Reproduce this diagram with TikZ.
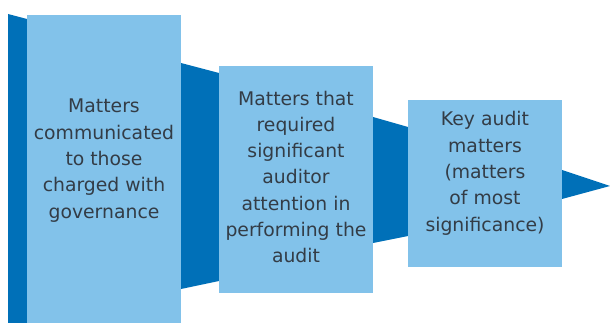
\documentclass[tikz,border=0pt]{standalone}
\usepackage{fontspec}
\setmainfont{DejaVu Sans}
\definecolor{funnelblue}{RGB}{0,112,184}
\definecolor{boxblue}{RGB}{130,194,234}
\definecolor{textgray}{RGB}{51,60,70}
\begin{document}
\begin{tikzpicture}[x=1pt,y=-1pt,
	box/.style={fill=boxblue, inner sep=0pt, anchor=north west, minimum width=154},
	boxtext/.style={text=textgray, align=center, inner sep=0pt,
		font=\fontsize{18.8}{26.3}\selectfont}]
	\useasboundingbox (0,0) rectangle (610,323);
	% funnel behind the boxes
	\fill[funnelblue] (8,14) -- (27,19) -- (27,323) -- (8,323) -- cycle;
	\fill[funnelblue] (181,63) -- (219,73) -- (219,281) -- (181,289) -- cycle;
	\fill[funnelblue] (373,117) -- (408,127) -- (408,236) -- (373,243) -- cycle;
	\fill[funnelblue] (562,170) -- (610,186) -- (562,199) -- cycle;
	% boxes
	\node[box, minimum height=308] (comm) at (27,15) {};
	\node[box, minimum height=227] (attn) at (219,66) {};
	\node[box, minimum height=167] (kam) at (408,100) {};
	\node[boxtext] (commtext) at (104,160.7)
		{Matters\\communicated\\to those\\charged with\\governance};
	\node[boxtext] (attntext) at (296,176.9)
		{Matters that\\required\\significant\\auditor\\attention in\\performing the\\audit};
	\node[boxtext] (kamtext) at (485,173.3)
		{Key audit\\matters\\(matters\\of most\\significance)};
\end{tikzpicture}
\end{document}
